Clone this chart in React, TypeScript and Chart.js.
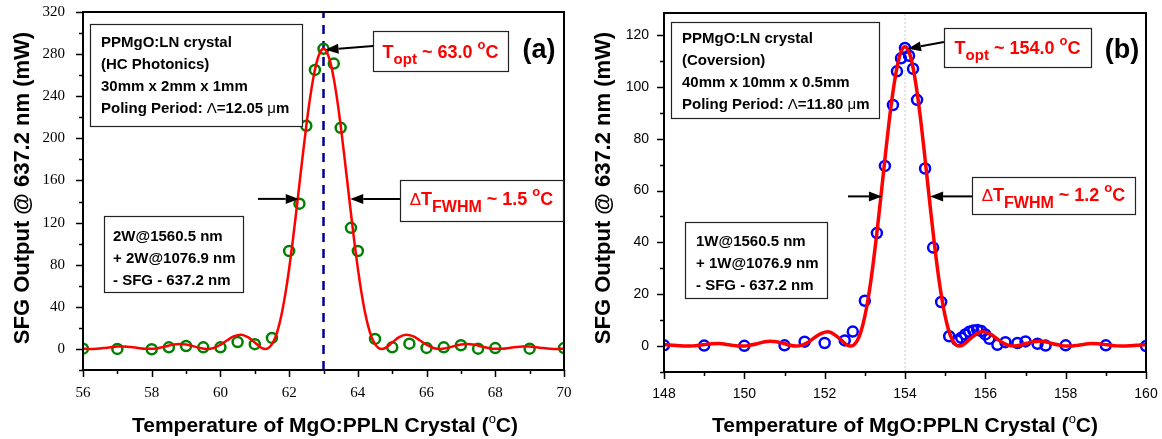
import React, { useEffect, useRef } from 'react';
import { Chart, registerables } from 'chart.js';

Chart.register(...registerables);

const SANS = '"Liberation Sans", Arial, Helvetica, sans-serif';
const SERIF = '"Liberation Serif", "Times New Roman", serif';

// ---------------- Panel (a) data ----------------
const tempA = [56, 57, 58, 58.5, 59, 59.5, 60, 60.5, 61, 61.5, 62, 62.3, 62.5, 62.75, 63, 63.3, 63.5, 63.8, 64, 64.5, 65, 65.5, 66, 66.5, 67, 67.5, 68, 69, 70];
const powerA = [0.3, 0, -0.3, 1.5, 2.8, 1.5, 1.5, 6.5, 4.5, 10.5, 93, 138, 212, 265, 285, 271, 210, 115, 93, 9.5, 1.5, 5, 1, 1.5, 3.5, 0.3, 0.8, 0.3, 0.8];

const fitTempA = [
  56.0, 56.2, 56.4, 56.6, 56.8, 57.0, 57.2, 57.4, 57.6, 57.8, 58.0, 58.2, 58.4, 58.6, 58.8, 59.0, 59.2, 59.4, 59.6, 59.8, 60.0, 60.2, 60.4, 60.6, 60.8, 61.0,
  61.2, 61.3, 61.4, 61.5, 61.6, 61.7, 61.8, 61.9, 62.0, 62.1, 62.2, 62.3, 62.4, 62.5, 62.6, 62.7, 62.8, 62.9, 63.0,
  63.1, 63.2, 63.3, 63.4, 63.5, 63.6, 63.7, 63.8, 63.9, 64.0, 64.1, 64.2, 64.3, 64.4, 64.5, 64.6, 64.7, 64.8,
  65.0, 65.2, 65.4, 65.6, 65.8, 66.0, 66.2, 66.4, 66.6, 66.8, 67.0, 67.2, 67.4, 67.6, 67.8, 68.0, 68.2, 68.4, 68.6, 68.8, 69.0, 69.2, 69.4, 69.6, 69.8, 70.0,
];
const fitPowerA = [
  0.3, 0, 0.2, 0.8, 1.6, 2.25, 2.35, 1.8, 0.9, 0.15, 0.1, 0.9, 2.3, 3.9, 4.7, 4.2, 2.7, 1.0, 0, 0.9, 4.0, 8.3, 12.1, 13.5, 11.2, 6.1,
  1.0, 0, 0.95, 4.5, 11.2, 21.7, 36.1, 54.4, 76.2, 101.2, 128.4, 156.7, 185.1, 212.1, 236.3, 256.7, 272.2, 281.7, 285,
  281.7, 272.2, 256.7, 236.3, 212.1, 185.1, 156.7, 128.4, 101.2, 76.2, 54.4, 36.1, 21.7, 11.2, 4.5, 0.95, 0, 1.0,
  6.1, 11.2, 13.5, 12.1, 8.3, 4.0, 0.9, 0, 1.0, 2.7, 4.2, 4.7, 3.9, 2.3, 0.9, 0.1, 0.15, 0.9, 1.8, 2.35, 2.25, 1.6, 0.8, 0.2, 0, 0.3,
];
const toptA = 63.0;
const xTicksA = [56, 58, 60, 62, 64, 66, 68, 70];
const xMinorA = [57, 59, 61, 63, 65, 67, 69];
const yTicksA = [0, 40, 80, 120, 160, 200, 240, 280, 320];
const yMinorA = [-20, 20, 60, 100, 140, 180, 220, 260, 300];

// ---------------- Panel (b) data ----------------
const tempB = [148, 149, 150, 151, 151.5, 152, 152.5, 152.7, 153, 153.3, 153.5, 153.7, 153.8, 153.9, 154, 154.1, 154.2, 154.3, 154.5, 154.7, 154.9, 155.1, 155.3, 155.4, 155.5, 155.6, 155.7, 155.8, 155.9, 156, 156.1, 156.3, 156.5, 156.8, 157, 157.3, 157.5, 158, 159, 160];
const powerB = [0.3, 0.2, 0.1, 0.3, 1.7, 1.2, 2.2, 5.6, 17.5, 43.6, 69.5, 93, 106, 111, 115, 112, 107, 95, 68.5, 38, 17, 3.8, 2.2, 3.2, 4.5, 5.5, 6, 6.2, 5.8, 4.5, 2.8, 0.5, 1.5, 1.2, 1.8, 0.9, 0.2, 0.3, 0.3, 0];

const fitTempB = [
  148.0, 148.08, 148.24, 148.4, 148.56, 148.72, 148.88, 149.04, 149.2, 149.36, 149.52, 149.68, 149.84, 150.0, 150.16, 150.32, 150.48, 150.64, 150.8, 150.96, 151.12, 151.28, 151.44, 151.6, 151.76, 151.92, 152.08, 152.24, 152.4,
  152.56, 152.64, 152.72, 152.8, 152.88, 152.96, 153.04, 153.12, 153.2, 153.28, 153.36, 153.44, 153.52, 153.6, 153.68, 153.76, 153.84, 153.92, 154.0,
  154.08, 154.16, 154.24, 154.32, 154.4, 154.48, 154.56, 154.64, 154.72, 154.8, 154.88, 154.96, 155.04, 155.12, 155.2, 155.28, 155.36, 155.44,
  155.6, 155.76, 155.92, 156.08, 156.24, 156.4, 156.56, 156.72, 156.88, 157.04, 157.2, 157.36, 157.52, 157.68, 157.84, 158.0, 158.16, 158.32, 158.48, 158.64, 158.8, 158.96, 159.12, 159.28, 159.44, 159.6, 159.76, 159.92, 160.0,
];
const fitPowerB = [
  0.57, 0.52, 0.33, 0.11, 0, 0.08, 0.33, 0.66, 0.91, 0.95, 0.73, 0.35, 0.06, 0.03, 0.4, 0.9, 1.6, 1.9, 1.7, 1.1, 0.4, 0, 0.4, 1.6, 3.4, 4.9, 5.5, 4.5, 2.5,
  0.4, 0, 0.4, 1.8, 4.5, 8.8, 14.6, 22.0, 30.9, 41.0, 52.0, 63.5, 75.0, 86.0, 95.8, 104.0, 110.3, 114.2, 115.5,
  114.2, 110.3, 104.0, 95.8, 86.0, 75.0, 63.5, 52.0, 41.0, 30.9, 22.0, 14.6, 8.8, 4.5, 1.8, 0.4, 0, 0.4,
  2.5, 4.5, 5.5, 4.9, 3.4, 1.6, 0.4, 0, 0.4, 1.1, 1.7, 1.9, 1.6, 0.9, 0.4, 0.03, 0.06, 0.35, 0.73, 0.95, 0.91, 0.66, 0.33, 0.08, 0, 0.11, 0.33, 0.52, 0.57,
];
const toptB = 154.0;
const xTicksB = [148, 150, 152, 154, 156, 158, 160];
const xMinorB = [149, 151, 153, 155, 157, 159];
const yTicksB = [0, 20, 40, 60, 80, 100, 120];
const yMinorB = [-10, 10, 30, 50, 70, 90, 110];

// ---------------- text helpers ----------------
type Seg = { t: string; font: string; dy?: number; color?: string };
const B = (size: number) => `bold ${size}px ${SANS}`;
const N = (size: number) => `${size}px ${SANS}`;

function richWidth(ctx: CanvasRenderingContext2D, segs: Seg[]) {
  let w = 0;
  for (const s of segs) {
    ctx.font = s.font;
    w += ctx.measureText(s.t).width;
  }
  return w;
}

function drawRich(ctx: CanvasRenderingContext2D, x: number, y: number, segs: Seg[], align: 'left' | 'center', color: string) {
  const w = richWidth(ctx, segs);
  let cx = align === 'center' ? x - w / 2 : x;
  ctx.textAlign = 'left';
  ctx.textBaseline = 'alphabetic';
  for (const s of segs) {
    ctx.font = s.font;
    ctx.fillStyle = s.color || color;
    ctx.fillText(s.t, cx, y + (s.dy || 0));
    cx += ctx.measureText(s.t).width;
  }
}

function box(ctx: CanvasRenderingContext2D, x: number, y: number, w: number, h: number) {
  ctx.fillStyle = '#ffffff';
  ctx.fillRect(x, y, w, h);
  ctx.strokeStyle = '#222';
  ctx.lineWidth = 1.2;
  ctx.strokeRect(x + 0.5, y + 0.5, w, h);
}

function arrow(ctx: CanvasRenderingContext2D, x1: number, y1: number, x2: number, y2: number) {
  const ang = Math.atan2(y2 - y1, x2 - x1);
  const hl = 13;
  const hw = 5;
  const bx = x2 - hl * Math.cos(ang);
  const by = y2 - hl * Math.sin(ang);
  ctx.strokeStyle = '#000';
  ctx.fillStyle = '#000';
  ctx.lineWidth = 2;
  ctx.beginPath();
  ctx.moveTo(x1, y1);
  ctx.lineTo(bx, by);
  ctx.stroke();
  ctx.beginPath();
  ctx.moveTo(x2, y2);
  ctx.lineTo(bx + hw * Math.sin(ang), by - hw * Math.cos(ang));
  ctx.lineTo(bx - hw * Math.sin(ang), by + hw * Math.cos(ang));
  ctx.closePath();
  ctx.fill();
}

function lines(ctx: CanvasRenderingContext2D, x: number, y0: number, dy: number, rows: Seg[][]) {
  rows.forEach((r, i) => drawRich(ctx, x, y0 + i * dy, r, 'left', '#000'));
}

type Panel = {
  ptX: number[];
  ptY: number[];
  fitX: number[];
  fitY: number[];
  ptColor: string;
  fitWidth: number;
  vline: number;
  vColor: string;
  vWidth: number;
  vDash: number[];
  xMin: number;
  xMax: number;
  yMin: number;
  yMax: number;
  xTicks: number[];
  xMinor: number[];
  yTicks: number[];
  yMinor: number[];
  tickFont: string;
  tickSize: number;
  yPad: number;
  xPad: number;
  padding: { left: number; right: number; top: number; bottom: number };
  decor: (ctx: CanvasRenderingContext2D, chart: any) => void;
};

function drawFrame(chart: any, p: Panel) {
  const ctx: CanvasRenderingContext2D = chart.ctx;
  const { left, right, top, bottom } = chart.chartArea;
  const xs = chart.scales.x;
  const ys = chart.scales.y;
  ctx.save();
  ctx.strokeStyle = '#000';
  ctx.lineWidth = 1.5;
  ctx.beginPath();
  for (const v of p.xTicks) {
    const px = Math.round(xs.getPixelForValue(v)) + 0.5;
    ctx.moveTo(px, bottom); ctx.lineTo(px, bottom + 7);
  }
  for (const v of p.xMinor) {
    const px = Math.round(xs.getPixelForValue(v)) + 0.5;
    ctx.moveTo(px, bottom); ctx.lineTo(px, bottom + 4);
  }
  for (const v of p.yTicks) {
    const py = Math.round(ys.getPixelForValue(v)) + 0.5;
    ctx.moveTo(left - 7, py); ctx.lineTo(left, py);
  }
  for (const v of p.yMinor) {
    const py = Math.round(ys.getPixelForValue(v)) + 0.5;
    ctx.moveTo(left - 4, py); ctx.lineTo(left, py);
  }
  ctx.stroke();
  ctx.lineWidth = 2;
  ctx.strokeRect(left, top, right - left, bottom - top);
  ctx.restore();
}

function makeChart(canvas: HTMLCanvasElement, p: Panel) {
  const plugin = {
    id: 'decor',
    afterDatasetsDraw(chart: any) {
      drawFrame(chart, p);
      const ctx = chart.ctx as CanvasRenderingContext2D;
      ctx.save();
      p.decor(ctx, chart);
      ctx.restore();
    },
  };
  const tickFont = { family: p.tickFont, size: p.tickSize };
  return new Chart(canvas, {
    type: 'scatter',
    data: {
      datasets: [
        {
          type: 'line',
          data: p.fitX.map((x, i) => ({ x, y: p.fitY[i] })),
          borderColor: '#ff0000',
          backgroundColor: '#ff0000',
          borderWidth: p.fitWidth,
          pointRadius: 0,
          cubicInterpolationMode: 'monotone',
          fill: false,
          clip: 0,
        } as any,
        {
          data: p.ptX.map((x, i) => ({ x, y: p.ptY[i] })),
          pointStyle: 'circle',
          pointRadius: 5,
          pointBorderWidth: 2.5,
          pointBorderColor: p.ptColor,
          borderColor: p.ptColor,
          pointBackgroundColor: 'rgba(0,0,0,0)',
          backgroundColor: 'rgba(0,0,0,0)',
          clip: 0,
        } as any,
        {
          type: 'line',
          data: [{ x: p.vline, y: p.yMin }, { x: p.vline, y: p.yMax }],
          borderColor: p.vColor,
          borderWidth: p.vWidth,
          borderDash: p.vDash,
          pointRadius: 0,
          fill: false,
        } as any,
      ],
    },
    options: {
      animation: false,
      responsive: false,
      devicePixelRatio: 1,
      events: [],
      layout: { padding: p.padding },
      plugins: { legend: { display: false }, tooltip: { enabled: false }, title: { display: false } },
      scales: {
        x: {
          type: 'linear',
          min: p.xMin,
          max: p.xMax,
          afterBuildTicks: (s: any) => { s.ticks = p.xTicks.map((v) => ({ value: v })); },
          afterFit: (s: any) => { s.height = 40; s.paddingLeft = 0; s.paddingRight = 0; s.paddingTop = 0; s.paddingBottom = 0; },
          grid: { display: true, drawOnChartArea: false, drawTicks: false },
          border: { display: false },
          ticks: { font: tickFont, color: '#000', padding: p.xPad, maxRotation: 0, autoSkip: false },
        },
        y: {
          type: 'linear',
          min: p.yMin,
          max: p.yMax,
          afterBuildTicks: (s: any) => { s.ticks = p.yTicks.map((v) => ({ value: v })); },
          afterFit: (s: any) => { s.width = 50; s.paddingLeft = 0; s.paddingRight = 0; s.paddingTop = 0; s.paddingBottom = 0; },
          grid: { display: true, drawOnChartArea: false, drawTicks: false },
          border: { display: false },
          ticks: { font: tickFont, color: '#000', padding: p.yPad, autoSkip: false },
        },
      },
    } as any,
    plugins: [plugin],
  });
}

function axisTitles(ctx: CanvasRenderingContext2D, yx: number, yy: number, xx: number, xy: number) {
  ctx.save();
  ctx.translate(yx, yy);
  ctx.rotate(-Math.PI / 2);
  drawRich(ctx, 0, 0, [{ t: 'SFG Output @ 637.2 nm (mW)', font: B(22) }], 'center', '#000');
  ctx.restore();
  drawRich(ctx, xx, xy, [
    { t: 'Temperature of MgO:PPLN Crystal (', font: B(21) },
    { t: 'o', font: N(13), dy: -9 },
    { t: 'C)', font: B(21) },
  ], 'center', '#000');
}

function decorA(ctx: CanvasRenderingContext2D, chart: any) {
  const xs = chart.scales.x;
  const ys = chart.scales.y;
  const half = 285 / 2;
  const hy = ys.getPixelForValue(half);
  // info box
  box(ctx, 90, 24, 212, 102);
  lines(ctx, 101, 47, 22, [
    [{ t: 'PPMgO:LN crystal', font: B(15) }],
    [{ t: '(HC Photonics)', font: B(15) }],
    [{ t: '30mm x 2mm x 1mm', font: B(15) }],
    [{ t: 'Poling Period: ', font: B(15) }, { t: 'Λ', font: N(15) }, { t: '=12.05 ', font: B(15) }, { t: 'μ', font: N(15) }, { t: 'm', font: B(15) }],
  ]);
  // T_opt
  box(ctx, 373, 31, 135, 40);
  drawRich(ctx, 440.5, 58, [
    { t: 'T', font: B(18) },
    { t: 'opt', font: B(15), dy: 6 },
    { t: ' ~ 63.0 ', font: B(18) },
    { t: 'o', font: B(13), dy: -9 },
    { t: 'C', font: B(18) },
  ], 'center', '#ff0000');
  arrow(ctx, 373, 46, xs.getPixelForValue(toptA) + 2, ys.getPixelForValue(285) + 1);
  // (a)
  ctx.font = B(27);
  ctx.fillStyle = '#000';
  ctx.textAlign = 'center';
  ctx.textBaseline = 'alphabetic';
  ctx.fillText('(a)', 539, 58);
  // FWHM
  box(ctx, 400, 180, 163, 41);
  drawRich(ctx, 481.5, 205, [
    { t: 'Δ', font: N(17) },
    { t: 'T', font: B(18) },
    { t: 'FWHM', font: B(16), dy: 7 },
    { t: ' ~ 1.5 ', font: B(18) },
    { t: 'o', font: B(13), dy: -9 },
    { t: 'C', font: B(18) },
  ], 'center', '#ff0000');
  arrow(ctx, 258, hy, xs.getPixelForValue(62.25) + 1, hy);
  arrow(ctx, 400, hy, xs.getPixelForValue(63.75) + 1, hy);
  // pump box
  box(ctx, 104, 216, 139, 76);
  lines(ctx, 113, 241, 22, [
    [{ t: '2W@1560.5 nm', font: B(15) }],
    [{ t: '+ 2W@1076.9 nm', font: B(15) }],
    [{ t: '- SFG - 637.2 nm', font: B(15) }],
  ]);
  axisTitles(ctx, 29, 188, 325, 432);
}

function decorB(ctx: CanvasRenderingContext2D, chart: any) {
  const xs = chart.scales.x;
  const ys = chart.scales.y;
  const hy = ys.getPixelForValue(115.5 / 2);
  box(ctx, 91, 22, 208, 96);
  lines(ctx, 102, 43, 22, [
    [{ t: 'PPMgO:LN crystal', font: B(15) }],
    [{ t: '(Coversion)', font: B(15) }],
    [{ t: '40mm x 10mm x 0.5mm', font: B(15) }],
    [{ t: 'Poling Period: ', font: B(15) }, { t: 'Λ', font: N(15) }, { t: '=11.80 ', font: B(15) }, { t: 'μ', font: N(15) }, { t: 'm', font: B(15) }],
  ]);
  box(ctx, 364, 28, 147, 39);
  drawRich(ctx, 437.5, 54, [
    { t: 'T', font: B(18) },
    { t: 'opt', font: B(15), dy: 6 },
    { t: ' ~ 154.0 ', font: B(18) },
    { t: 'o', font: B(13), dy: -9 },
    { t: 'C', font: B(18) },
  ], 'center', '#ff0000');
  arrow(ctx, 364, 42, xs.getPixelForValue(toptB) + 3, ys.getPixelForValue(115.5) + 2);
  ctx.font = B(27);
  ctx.fillStyle = '#000';
  ctx.textAlign = 'center';
  ctx.textBaseline = 'alphabetic';
  ctx.fillText('(b)', 542, 58);
  box(ctx, 392, 177, 163, 37);
  drawRich(ctx, 473.5, 201, [
    { t: 'Δ', font: N(17) },
    { t: 'T', font: B(18) },
    { t: 'FWHM', font: B(16), dy: 7 },
    { t: ' ~ 1.2 ', font: B(18) },
    { t: 'o', font: B(13), dy: -9 },
    { t: 'C', font: B(18) },
  ], 'center', '#ff0000');
  arrow(ctx, 268, hy, xs.getPixelForValue(153.4) + 1, hy);
  arrow(ctx, 392, hy, xs.getPixelForValue(154.6) + 1, hy);
  box(ctx, 105, 222, 142, 76);
  lines(ctx, 116, 246, 22, [
    [{ t: '1W@1560.5 nm', font: B(15) }],
    [{ t: '+ 1W@1076.9 nm', font: B(15) }],
    [{ t: '- SFG - 637.2 nm', font: B(15) }],
  ]);
  axisTitles(ctx, 30, 188, 325, 432);
}

const panelA: Panel = {
  ptX: tempA, ptY: powerA, fitX: fitTempA, fitY: fitPowerA,
  ptColor: '#008000', fitWidth: 2.5,
  vline: toptA, vColor: '#00008b', vWidth: 2.5, vDash: [9, 7],
  xMin: 56, xMax: 70, yMin: -20, yMax: 320,
  xTicks: xTicksA, xMinor: xMinorA, yTicks: yTicksA, yMinor: yMinorA,
  tickFont: SERIF, tickSize: 15, yPad: 18, xPad: 14,
  padding: { left: 33, right: 16, top: 12, bottom: 29 },
  decor: decorA,
};

const panelB: Panel = {
  ptX: tempB, ptY: powerB, fitX: fitTempB, fitY: fitPowerB,
  ptColor: '#0000ff', fitWidth: 3.5,
  vline: toptB, vColor: '#c8c8c8', vWidth: 1, vDash: [2, 2],
  xMin: 148, xMax: 160, yMin: -10, yMax: 128.5,
  xTicks: xTicksB, xMinor: xMinorB, yTicks: yTicksB, yMinor: yMinorB,
  tickFont: SANS, tickSize: 14, yPad: 15, xPad: 14,
  padding: { left: 34, right: 16, top: 13, bottom: 27 },
  decor: decorB,
};

export default function App() {
  const refA = useRef<HTMLCanvasElement>(null);
  const refB = useRef<HTMLCanvasElement>(null);
  useEffect(() => {
    const a = makeChart(refA.current!, panelA);
    const b = makeChart(refB.current!, panelB);
    return () => { a.destroy(); b.destroy(); };
  }, []);
  return (
    <div style={{ position: 'absolute', left: 0, top: 0, width: 1162, height: 439, background: '#fff', overflow: 'hidden' }}>
      <canvas ref={refA} width={580} height={439} style={{ position: 'absolute', left: 0, top: 0, width: 580, height: 439 }} />
      <canvas ref={refB} width={582} height={439} style={{ position: 'absolute', left: 580, top: 0, width: 582, height: 439 }} />
    </div>
  );
}
